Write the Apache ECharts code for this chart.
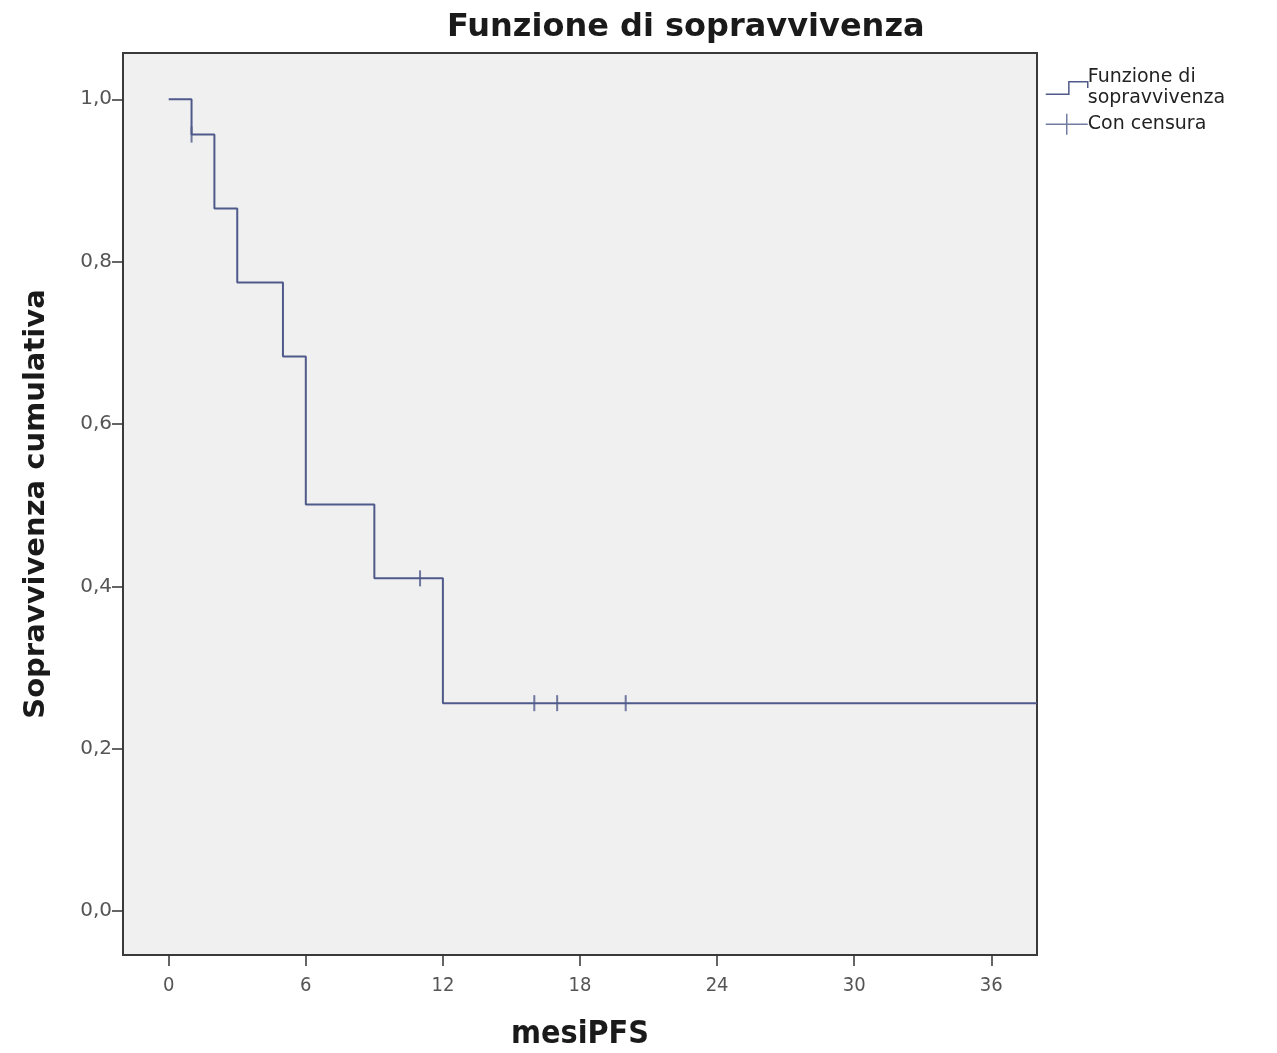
<!DOCTYPE html>
<html lang="it">
<head>
    <meta charset="UTF-8">
    <title>Funzione di sopravvivenza</title>
    <script src="https://cdn.jsdelivr.net/npm/echarts@6/dist/echarts.min.js"></script>
    <style>
        *{
            margin: 0;
            padding: 0;
        }
        body{
            background: #fff;
        }
        #box{
            width: 1277px;
            height: 1053px;
        }
    </style>
</head>
<body>
<div id="box"></div>
<script type="text/javascript">
    // tempi degli eventi (mesi) e sopravvivenza cumulativa
    let times = [0, 1, 2, 3, 5, 6, 9, 12, 38];
    let surv = [1.0, 0.9565, 0.8654, 0.7743, 0.6832, 0.5010, 0.4099, 0.2562, 0.2562];
    // censure
    let censTimes = [1, 11, 16, 17, 20];
    let censSurv = [0.9565, 0.4099, 0.2562, 0.2562, 0.2562];
    // tick
    let xTicks = [0, 6, 12, 18, 24, 30, 36];
    let yTicks = [0, 0.2, 0.4, 0.6, 0.8, 1.0];

    let lineColor = '#4f5a8a';
    let stepData = times.map((t, i) => [t, surv[i]]);
    let censData = censTimes.map((t, i) => [t, censSurv[i]]);
    let condensed = 'DejaVu Sans Condensed, sans-serif';

    let chart = echarts.init(document.getElementById('box'));
    let option = {
        animation: false,
        title: {
            text: 'Funzione di sopravvivenza',
            left: 442,
            top: 7,
            textStyle: {
                fontFamily: 'DejaVu Sans',
                fontSize: 32,
                fontWeight: 'bold',
                color: '#1a1a1a'
            }
        },
        legend: {
            orient: 'vertical',
            left: 1040,
            top: 62,
            itemWidth: 42,
            itemHeight: 22,
            itemGap: 4,
            textStyle: {
                fontFamily: 'DejaVu Sans',
                fontSize: 19,
                color: '#222',
                lineHeight: 21,
                padding: [0, 0, 0, -5]
            },
            data: [
                {name: 'Funzione di\nsopravvivenza', icon: 'path://M0,12 L22,12 L22,0 L40,0 L40,6'},
                {name: 'Con censura', icon: 'path://M0,10 L40,10 M20,0 L20,20'}
            ],
            itemStyle: {color: 'transparent', borderColor: lineColor, borderWidth: 1.5}
        },
        grid: {
            left: 123,
            right: 240,
            top: 53,
            bottom: 98,
            outerBoundsMode: 'none',
            show: true,
            backgroundColor: '#f0f0f0',
            borderColor: '#3a3a3a',
            borderWidth: 2
        },
        xAxis: {
            type: 'value',
            min: -2,
            max: 38,
            name: 'mesiPFS',
            nameLocation: 'middle',
            nameGap: 64,
            nameTextStyle: {
                fontFamily: condensed,
                fontSize: 32,
                fontWeight: 'bold',
                color: '#1a1a1a'
            },
            splitLine: {show: false},
            axisLine: {show: false, onZero: false},
            axisTick: {
                show: true,
                customValues: xTicks,
                length: 11,
                lineStyle: {color: '#333', width: 1.5}
            },
            axisLabel: {
                customValues: xTicks,
                margin: 21,
                fontFamily: condensed,
                fontSize: 20,
                color: '#555'
            }
        },
        yAxis: {
            type: 'value',
            min: -0.054,
            max: 1.057,
            name: 'Sopravvivenza cumulativa',
            nameLocation: 'middle',
            nameGap: 72,
            nameTextStyle: {
                fontFamily: 'DejaVu Sans',
                fontSize: 29,
                fontWeight: 'bold',
                color: '#1a1a1a'
            },
            splitLine: {show: false},
            axisLine: {show: false, onZero: false},
            axisTick: {
                show: true,
                customValues: yTicks,
                length: 11,
                lineStyle: {color: '#333', width: 1.5}
            },
            axisLabel: {
                customValues: yTicks,
                margin: 11,
                fontFamily: 'DejaVu Sans',
                fontSize: 20,
                color: '#555',
                formatter: v => v.toFixed(1).replace('.', ',')
            }
        },
        series: [
            {
                name: 'Funzione di\nsopravvivenza',
                type: 'line',
                step: 'end',
                data: stepData,
                symbol: 'none',
                lineStyle: {color: lineColor, width: 2},
                itemStyle: {color: lineColor}
            },
            {
                name: 'Con censura',
                type: 'scatter',
                data: censData,
                symbol: 'rect',
                symbolSize: [2, 16],
                itemStyle: {color: lineColor},
                z: 3
            }
        ]
    };
    chart.setOption(option);
</script>
</body>
</html>
